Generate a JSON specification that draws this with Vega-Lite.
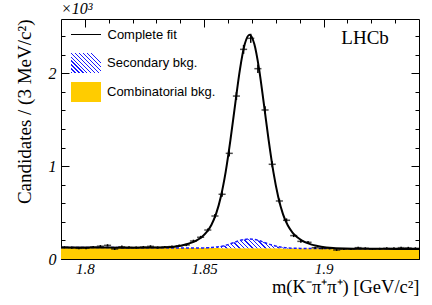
{
  "$schema": "https://vega.github.io/schema/vega-lite/v6.json",
  "autosize": "none",
  "width": 358,
  "height": 240,
  "padding": {"left": 61, "top": 19, "right": 13, "bottom": 46},
  "background": "white",
  "config": {"view": {"stroke": null}, "axis": {"zindex": 1, "grid": false, "domainColor": "black", "domainWidth": 1, "tickColor": "black", "tickWidth": 1}},
  "title": {"text": "×10³", "anchor": "start", "frame": "group", "font": "Liberation Serif", "fontStyle": "italic", "fontSize": 16, "fontWeight": "normal", "color": "black", "offset": 2},
  "datasets": {
    "bins": [
      {"x": 1.7915, "n": 126, "err": 11.2}, {"x": 1.7945, "n": 122, "err": 11.0}, {"x": 1.7975, "n": 115, "err": 10.7},
      {"x": 1.8005, "n": 117, "err": 10.8}, {"x": 1.8035, "n": 129, "err": 11.4}, {"x": 1.8065, "n": 138, "err": 11.7},
      {"x": 1.8095, "n": 147, "err": 12.1}, {"x": 1.8125, "n": 108, "err": 10.4}, {"x": 1.8155, "n": 133, "err": 11.5},
      {"x": 1.8185, "n": 126, "err": 11.2}, {"x": 1.8215, "n": 124, "err": 11.1}, {"x": 1.8245, "n": 129, "err": 11.4},
      {"x": 1.8275, "n": 136, "err": 11.7}, {"x": 1.8305, "n": 124, "err": 11.1}, {"x": 1.8335, "n": 129, "err": 11.4},
      {"x": 1.8365, "n": 134, "err": 11.6}, {"x": 1.8395, "n": 143, "err": 12.0}, {"x": 1.8425, "n": 151, "err": 12.3},
      {"x": 1.8455, "n": 194, "err": 13.9}, {"x": 1.8485, "n": 234, "err": 15.3}, {"x": 1.8515, "n": 312, "err": 17.7},
      {"x": 1.8545, "n": 463, "err": 21.5}, {"x": 1.8575, "n": 697, "err": 26.4}, {"x": 1.8605, "n": 1138, "err": 33.7},
      {"x": 1.8635, "n": 1755, "err": 41.9}, {"x": 1.8665, "n": 2258, "err": 47.5}, {"x": 1.8695, "n": 2377, "err": 48.8},
      {"x": 1.8725, "n": 2050, "err": 45.3}, {"x": 1.8755, "n": 1605, "err": 40.1}, {"x": 1.8785, "n": 1020, "err": 31.9},
      {"x": 1.8815, "n": 625, "err": 25.0}, {"x": 1.8845, "n": 417, "err": 20.4}, {"x": 1.8875, "n": 252, "err": 15.9},
      {"x": 1.8905, "n": 190, "err": 13.8}, {"x": 1.8935, "n": 180, "err": 13.4}, {"x": 1.8965, "n": 122, "err": 11.0},
      {"x": 1.8995, "n": 115, "err": 10.7}, {"x": 1.9025, "n": 115, "err": 10.7}, {"x": 1.9055, "n": 97, "err": 9.8},
      {"x": 1.9085, "n": 108, "err": 10.4}, {"x": 1.9115, "n": 108, "err": 10.4}, {"x": 1.9145, "n": 122, "err": 11.0},
      {"x": 1.9175, "n": 115, "err": 10.7}, {"x": 1.9205, "n": 108, "err": 10.4}, {"x": 1.9235, "n": 110, "err": 10.5},
      {"x": 1.9265, "n": 115, "err": 10.7}, {"x": 1.9295, "n": 115, "err": 10.7}, {"x": 1.9325, "n": 122, "err": 11.0},
      {"x": 1.9355, "n": 120, "err": 11.0}, {"x": 1.9385, "n": 115, "err": 10.7}
    ],
    "curve": [
      {"x": 1.79, "comb": 125, "top": 125, "fit": 125}, {"x": 1.80, "comb": 124, "top": 124, "fit": 124},
      {"x": 1.81, "comb": 123, "top": 123, "fit": 123}, {"x": 1.82, "comb": 122, "top": 122, "fit": 122},
      {"x": 1.829, "comb": 121, "top": 121, "fit": 123}, {"x": 1.834, "comb": 120, "top": 120, "fit": 126},
      {"x": 1.839, "comb": 119, "top": 119, "fit": 138}, {"x": 1.841, "comb": 119, "top": 119, "fit": 148},
      {"x": 1.843, "comb": 119, "top": 119, "fit": 161}, {"x": 1.845, "comb": 119, "top": 119, "fit": 179},
      {"x": 1.847, "comb": 119, "top": 119, "fit": 204}, {"x": 1.849, "comb": 118, "top": 119, "fit": 238},
      {"x": 1.851, "comb": 118, "top": 120, "fit": 289}, {"x": 1.853, "comb": 118, "top": 123, "fit": 367},
      {"x": 1.855, "comb": 118, "top": 128, "fit": 488}, {"x": 1.857, "comb": 117, "top": 135, "fit": 673},
      {"x": 1.859, "comb": 117, "top": 148, "fit": 938}, {"x": 1.861, "comb": 117, "top": 164, "fit": 1282},
      {"x": 1.863, "comb": 117, "top": 182, "fit": 1672}, {"x": 1.865, "comb": 117, "top": 200, "fit": 2046},
      {"x": 1.867, "comb": 116, "top": 211, "fit": 2315}, {"x": 1.869, "comb": 116, "top": 216, "fit": 2416},
      {"x": 1.871, "comb": 116, "top": 211, "fit": 2315}, {"x": 1.873, "comb": 116, "top": 199, "fit": 2045},
      {"x": 1.875, "comb": 115, "top": 180, "fit": 1670}, {"x": 1.877, "comb": 115, "top": 162, "fit": 1280},
      {"x": 1.879, "comb": 115, "top": 146, "fit": 936}, {"x": 1.881, "comb": 115, "top": 133, "fit": 671},
      {"x": 1.883, "comb": 114, "top": 124, "fit": 484}, {"x": 1.885, "comb": 114, "top": 119, "fit": 363},
      {"x": 1.887, "comb": 114, "top": 116, "fit": 285}, {"x": 1.889, "comb": 114, "top": 115, "fit": 234},
      {"x": 1.891, "comb": 114, "top": 114, "fit": 199}, {"x": 1.893, "comb": 113, "top": 113, "fit": 173},
      {"x": 1.895, "comb": 113, "top": 113, "fit": 155}, {"x": 1.897, "comb": 113, "top": 113, "fit": 142},
      {"x": 1.899, "comb": 113, "top": 113, "fit": 132}, {"x": 1.904, "comb": 112, "top": 112, "fit": 118},
      {"x": 1.909, "comb": 111, "top": 111, "fit": 113}, {"x": 1.92, "comb": 110, "top": 110, "fit": 110},
      {"x": 1.93, "comb": 109, "top": 109, "fit": 109}, {"x": 1.94, "comb": 108, "top": 108, "fit": 108}
    ]
  },
  "resolve": {"axis": {"x": "independent", "y": "independent"}},
  "layer": [
    {
      "data": {"name": "curve"},
      "mark": {"type": "area", "interpolate": "monotone", "clip": true},
      "encoding": {
        "x": {"field": "x", "type": "quantitative", "scale": {"domain": [1.79, 1.94], "nice": false, "zero": false},
          "axis": {"orient": "bottom", "values": [1.8, 1.85, 1.9], "format": "~g", "tickSize": -8, "domain": true,
            "labelFont": "Liberation Serif", "labelFontStyle": "italic", "labelFontSize": 15, "labelColor": "black",
            "labelBaseline": "alphabetic", "labelPadding": 22, "labelFlush": false,
            "title": "m(K⁻π⁺π⁺) [GeV/c²]", "titleFont": "Liberation Serif", "titleFontSize": 18.5, "titleFontWeight": "normal",
            "titleColor": "black", "titleAnchor": "end", "titleBaseline": "alphabetic", "titleY": 33}},
        "y": {"field": "comb", "type": "quantitative", "scale": {"domain": [0, 2585], "nice": false, "zero": false},
          "axis": {"orient": "left", "values": [0, 1000, 2000], "labelExpr": "datum.value / 1000", "tickSize": -8, "domain": true,
            "labelFont": "Liberation Serif", "labelFontStyle": "italic", "labelFontSize": 16, "labelColor": "black",
            "labelPadding": 13, "labelFlush": false,
            "title": "Candidates / (3 MeV/c²)", "titleFont": "Liberation Serif", "titleFontSize": 19, "titleFontWeight": "normal",
            "titleColor": "black", "titleAnchor": "end", "titleAngle": -90, "titleAlign": "right", "titleBaseline": "alphabetic",
            "titleX": -30.5, "titleY": 0}},
        "fill": {"datum": "Combinatorial bkg.", "type": "nominal",
          "scale": {"domain": ["Secondary bkg.", "Combinatorial bkg."], "range": [
            {"expr": "{gradient: 'linear', x1: 0, y1: 1, x2: 1, y2: 0.333, stops: [{offset: 0, color: '#1a1aff'}, {offset: 0.028, color: '#1a1aff'}, {offset: 0.028, color: 'white'}, {offset: 0.0909, color: 'white'}, {offset: 0.0909, color: '#1a1aff'}, {offset: 0.1189, color: '#1a1aff'}, {offset: 0.1189, color: 'white'}, {offset: 0.1818, color: 'white'}, {offset: 0.1818, color: '#1a1aff'}, {offset: 0.2098, color: '#1a1aff'}, {offset: 0.2098, color: 'white'}, {offset: 0.2727, color: 'white'}, {offset: 0.2727, color: '#1a1aff'}, {offset: 0.3007, color: '#1a1aff'}, {offset: 0.3007, color: 'white'}, {offset: 0.3636, color: 'white'}, {offset: 0.3636, color: '#1a1aff'}, {offset: 0.3916, color: '#1a1aff'}, {offset: 0.3916, color: 'white'}, {offset: 0.4545, color: 'white'}, {offset: 0.4545, color: '#1a1aff'}, {offset: 0.4825, color: '#1a1aff'}, {offset: 0.4825, color: 'white'}, {offset: 0.5455, color: 'white'}, {offset: 0.5455, color: '#1a1aff'}, {offset: 0.5735, color: '#1a1aff'}, {offset: 0.5735, color: 'white'}, {offset: 0.6364, color: 'white'}, {offset: 0.6364, color: '#1a1aff'}, {offset: 0.6644, color: '#1a1aff'}, {offset: 0.6644, color: 'white'}, {offset: 0.7273, color: 'white'}, {offset: 0.7273, color: '#1a1aff'}, {offset: 0.7553, color: '#1a1aff'}, {offset: 0.7553, color: 'white'}, {offset: 0.8182, color: 'white'}, {offset: 0.8182, color: '#1a1aff'}, {offset: 0.8462, color: '#1a1aff'}, {offset: 0.8462, color: 'white'}, {offset: 0.9091, color: 'white'}, {offset: 0.9091, color: '#1a1aff'}, {offset: 0.9371, color: '#1a1aff'}, {offset: 0.9371, color: 'white'}, {offset: 1, color: 'white'}]}"},
            "#ffcc00"]},
          "legend": {"orient": "none", "legendX": 15, "legendY": 34, "title": null, "padding": 0,
            "symbolType": "M-1.5,-1H1.5V1H-1.5Z", "symbolSize": 400, "symbolStrokeWidth": 0,
            "labelFont": "Liberation Sans", "labelFontSize": 13, "labelColor": "black", "labelOffset": 11, "rowPadding": 9}
        }
      }
    },
    {
      "data": {"name": "curve"},
      "transform": [{"filter": "datum.x >= 1.843 && datum.x <= 1.897"}],
      "mark": {"type": "area", "interpolate": "monotone", "clip": true, "fill": {
        "gradient": "linear", "x1": 0, "y1": 1, "x2": 1, "y2": 0.925,
        "stops": [
          {"offset": 0, "color": "#1a1aff"}, {"offset": 0.011, "color": "#1a1aff"}, {"offset": 0.011, "color": "white"}, {"offset": 0.0333, "color": "white"},
          {"offset": 0.0333, "color": "#1a1aff"}, {"offset": 0.0443, "color": "#1a1aff"}, {"offset": 0.0443, "color": "white"}, {"offset": 0.0667, "color": "white"},
          {"offset": 0.0667, "color": "#1a1aff"}, {"offset": 0.0777, "color": "#1a1aff"}, {"offset": 0.0777, "color": "white"}, {"offset": 0.1, "color": "white"},
          {"offset": 0.1, "color": "#1a1aff"}, {"offset": 0.111, "color": "#1a1aff"}, {"offset": 0.111, "color": "white"}, {"offset": 0.1333, "color": "white"},
          {"offset": 0.1333, "color": "#1a1aff"}, {"offset": 0.1443, "color": "#1a1aff"}, {"offset": 0.1443, "color": "white"}, {"offset": 0.1667, "color": "white"},
          {"offset": 0.1667, "color": "#1a1aff"}, {"offset": 0.1777, "color": "#1a1aff"}, {"offset": 0.1777, "color": "white"}, {"offset": 0.2, "color": "white"},
          {"offset": 0.2, "color": "#1a1aff"}, {"offset": 0.211, "color": "#1a1aff"}, {"offset": 0.211, "color": "white"}, {"offset": 0.2333, "color": "white"},
          {"offset": 0.2333, "color": "#1a1aff"}, {"offset": 0.2443, "color": "#1a1aff"}, {"offset": 0.2443, "color": "white"}, {"offset": 0.2667, "color": "white"},
          {"offset": 0.2667, "color": "#1a1aff"}, {"offset": 0.2777, "color": "#1a1aff"}, {"offset": 0.2777, "color": "white"}, {"offset": 0.3, "color": "white"},
          {"offset": 0.3, "color": "#1a1aff"}, {"offset": 0.311, "color": "#1a1aff"}, {"offset": 0.311, "color": "white"}, {"offset": 0.3333, "color": "white"},
          {"offset": 0.3333, "color": "#1a1aff"}, {"offset": 0.3443, "color": "#1a1aff"}, {"offset": 0.3443, "color": "white"}, {"offset": 0.3667, "color": "white"},
          {"offset": 0.3667, "color": "#1a1aff"}, {"offset": 0.3777, "color": "#1a1aff"}, {"offset": 0.3777, "color": "white"}, {"offset": 0.4, "color": "white"},
          {"offset": 0.4, "color": "#1a1aff"}, {"offset": 0.411, "color": "#1a1aff"}, {"offset": 0.411, "color": "white"}, {"offset": 0.4333, "color": "white"},
          {"offset": 0.4333, "color": "#1a1aff"}, {"offset": 0.4443, "color": "#1a1aff"}, {"offset": 0.4443, "color": "white"}, {"offset": 0.4667, "color": "white"},
          {"offset": 0.4667, "color": "#1a1aff"}, {"offset": 0.4777, "color": "#1a1aff"}, {"offset": 0.4777, "color": "white"}, {"offset": 0.5, "color": "white"},
          {"offset": 0.5, "color": "#1a1aff"}, {"offset": 0.511, "color": "#1a1aff"}, {"offset": 0.511, "color": "white"}, {"offset": 0.5333, "color": "white"},
          {"offset": 0.5333, "color": "#1a1aff"}, {"offset": 0.5443, "color": "#1a1aff"}, {"offset": 0.5443, "color": "white"}, {"offset": 0.5667, "color": "white"},
          {"offset": 0.5667, "color": "#1a1aff"}, {"offset": 0.5777, "color": "#1a1aff"}, {"offset": 0.5777, "color": "white"}, {"offset": 0.6, "color": "white"},
          {"offset": 0.6, "color": "#1a1aff"}, {"offset": 0.611, "color": "#1a1aff"}, {"offset": 0.611, "color": "white"}, {"offset": 0.6333, "color": "white"},
          {"offset": 0.6333, "color": "#1a1aff"}, {"offset": 0.6443, "color": "#1a1aff"}, {"offset": 0.6443, "color": "white"}, {"offset": 0.6667, "color": "white"},
          {"offset": 0.6667, "color": "#1a1aff"}, {"offset": 0.6777, "color": "#1a1aff"}, {"offset": 0.6777, "color": "white"}, {"offset": 0.7, "color": "white"},
          {"offset": 0.7, "color": "#1a1aff"}, {"offset": 0.711, "color": "#1a1aff"}, {"offset": 0.711, "color": "white"}, {"offset": 0.7333, "color": "white"},
          {"offset": 0.7333, "color": "#1a1aff"}, {"offset": 0.7443, "color": "#1a1aff"}, {"offset": 0.7443, "color": "white"}, {"offset": 0.7667, "color": "white"},
          {"offset": 0.7667, "color": "#1a1aff"}, {"offset": 0.7777, "color": "#1a1aff"}, {"offset": 0.7777, "color": "white"}, {"offset": 0.8, "color": "white"},
          {"offset": 0.8, "color": "#1a1aff"}, {"offset": 0.811, "color": "#1a1aff"}, {"offset": 0.811, "color": "white"}, {"offset": 0.8333, "color": "white"},
          {"offset": 0.8333, "color": "#1a1aff"}, {"offset": 0.8443, "color": "#1a1aff"}, {"offset": 0.8443, "color": "white"}, {"offset": 0.8667, "color": "white"},
          {"offset": 0.8667, "color": "#1a1aff"}, {"offset": 0.8777, "color": "#1a1aff"}, {"offset": 0.8777, "color": "white"}, {"offset": 0.9, "color": "white"},
          {"offset": 0.9, "color": "#1a1aff"}, {"offset": 0.911, "color": "#1a1aff"}, {"offset": 0.911, "color": "white"}, {"offset": 0.9333, "color": "white"},
          {"offset": 0.9333, "color": "#1a1aff"}, {"offset": 0.9443, "color": "#1a1aff"}, {"offset": 0.9443, "color": "white"}, {"offset": 0.9667, "color": "white"},
          {"offset": 0.9667, "color": "#1a1aff"}, {"offset": 0.9777, "color": "#1a1aff"}, {"offset": 0.9777, "color": "white"}, {"offset": 1, "color": "white"}
        ]}},
      "encoding": {
        "x": {"field": "x", "type": "quantitative", "scale": {"domain": [1.79, 1.94], "nice": false, "zero": false},
          "axis": {"orient": "bottom", "values": [1.8, 1.81, 1.82, 1.83, 1.84, 1.85, 1.86, 1.87, 1.88, 1.89, 1.9, 1.91, 1.92, 1.93], "labels": false, "tickSize": -4, "domain": false, "title": null}},
        "y": {"field": "top", "type": "quantitative", "scale": {"domain": [0, 2585], "nice": false, "zero": false},
          "axis": {"orient": "left", "values": [0, 200, 400, 600, 800, 1000, 1200, 1400, 1600, 1800, 2000, 2200, 2400], "labels": false, "tickSize": -4, "domain": false, "title": null}},
        "y2": {"field": "comb"}
      }
    },
    {
      "data": {"name": "curve"},
      "mark": {"type": "line", "color": "#1a1aff", "strokeDash": [3, 2], "strokeWidth": 1.5, "interpolate": "monotone", "clip": true},
      "encoding": {
        "x": {"field": "x", "type": "quantitative", "scale": {"domain": [1.79, 1.94], "nice": false, "zero": false},
          "axis": {"orient": "top", "values": [1.8, 1.85, 1.9], "labels": false, "tickSize": -8, "domain": true, "title": null}},
        "y": {"field": "top", "type": "quantitative", "scale": {"domain": [0, 2585], "nice": false, "zero": false},
          "axis": {"orient": "right", "values": [0, 1000, 2000], "labels": false, "tickSize": -8, "domain": true, "title": null}}
      }
    },
    {
      "data": {"name": "curve"},
      "mark": {"type": "line", "strokeWidth": 2, "interpolate": "monotone", "clip": true},
      "encoding": {
        "x": {"field": "x", "type": "quantitative", "scale": {"domain": [1.79, 1.94], "nice": false, "zero": false},
          "axis": {"orient": "top", "values": [1.8, 1.81, 1.82, 1.83, 1.84, 1.85, 1.86, 1.87, 1.88, 1.89, 1.9, 1.91, 1.92, 1.93], "labels": false, "tickSize": -4, "domain": false, "title": null}},
        "y": {"field": "fit", "type": "quantitative", "scale": {"domain": [0, 2585], "nice": false, "zero": false},
          "axis": {"orient": "right", "values": [0, 200, 400, 600, 800, 1000, 1200, 1400, 1600, 1800, 2000, 2200, 2400], "labels": false, "tickSize": -4, "domain": false, "title": null}},
        "stroke": {"datum": "Complete fit", "type": "nominal", "scale": {"domain": ["Complete fit"], "range": ["black"]},
          "legend": {"orient": "none", "legendX": 9.5, "legendY": 0, "title": null, "padding": 0,
            "symbolType": "stroke", "symbolSize": 900, "symbolStrokeWidth": 1,
            "labelFont": "Liberation Sans", "labelFontSize": 13, "labelColor": "black", "labelOffset": 6}}
      }
    },
    {
      "data": {"name": "bins"},
      "mark": {"type": "errorbar", "color": "black", "thickness": 1.5},
      "encoding": {
        "x": {"field": "x", "type": "quantitative", "scale": {"domain": [1.79, 1.94], "nice": false, "zero": false}, "axis": null},
        "y": {"field": "n", "type": "quantitative", "scale": {"domain": [0, 2585], "nice": false, "zero": false}, "axis": null},
        "yError": {"field": "err"}
      }
    },
    {
      "data": {"name": "bins"},
      "mark": {"type": "tick", "orient": "horizontal", "size": 7.1, "thickness": 1.5, "color": "black"},
      "encoding": {
        "x": {"field": "x", "type": "quantitative", "scale": {"domain": [1.79, 1.94], "nice": false, "zero": false}, "axis": null},
        "y": {"field": "n", "type": "quantitative", "scale": {"domain": [0, 2585], "nice": false, "zero": false}, "axis": null}
      }
    },
    {
      "data": {"values": [{"label": "LHCb"}]},
      "mark": {"type": "text", "font": "Liberation Serif", "fontSize": 19, "align": "center", "baseline": "middle", "color": "black"},
      "encoding": {
        "x": {"datum": 1.9174, "type": "quantitative", "axis": null},
        "y": {"datum": 2383, "type": "quantitative", "axis": null},
        "text": {"field": "label"}
      }
    }
  ]
}
